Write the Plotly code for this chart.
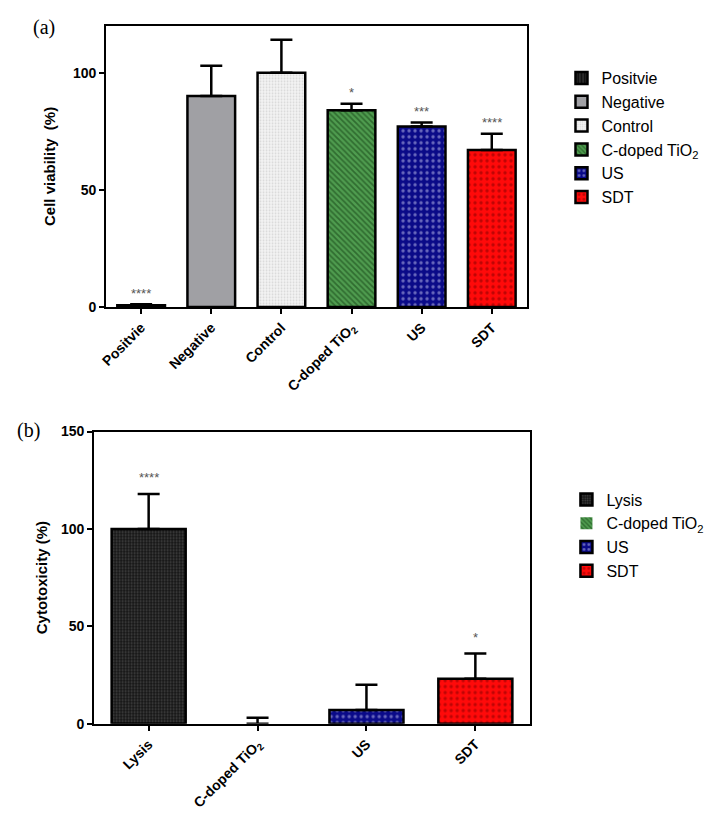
import plotly.graph_objects as go

# ---------- data: panel (a) ----------
cats_a = ["Positvie", "Negative", "Control", "C-doped TiO<sub>2</sub>", "US", "SDT"]
legend_a = ["Positvie", "Negative", "Control", "C-doped TiO<sub>2</sub>", "US", "SDT"]
vals_a = [0.8, 90, 100, 84, 77, 67]
errs_a = [0.4, 13, 14, 2.8, 1.8, 7]
stars_a = ["****", "", "", "*", "***", "****"]

# ---------- data: panel (b) ----------
cats_b = ["Lysis", "C-doped TiO<sub>2</sub>", "US", "SDT"]
legend_b = ["Lysis", "C-doped TiO<sub>2</sub>", "US", "SDT"]
vals_b = [100, 0, 7, 23]
errs_b = [18, 3, 13, 13]
stars_b = ["****", "", "", "*"]

# styles
style = {
    "Positvie": dict(bg="#111111", fg="#666666", shape="|", size=4, solidity=0.3),
    "Negative": dict(bg="#a0a0a4", fg="#a0a0a4", shape="", size=8, solidity=0.3),
    "Control": dict(bg="#f4f4f4", fg="#b8b8b8", shape=".", size=3, solidity=0.3),
    "C-doped TiO<sub>2</sub>": dict(bg="#4f9c4f", fg="#123d12", shape="\\", size=4, solidity=0.45),
    "US": dict(bg="#0a0a88", fg="#c8c8f0", shape=".", size=6, solidity=0.25),
    "SDT": dict(bg="#ff0a0a", fg="#7a0000", shape=".", size=6, solidity=0.25),
    "Lysis": dict(bg="#151515", fg="#7a7a7a", shape=".", size=3, solidity=0.35),
}

FONT = "Liberation Sans, Arial, sans-serif"
W, H = 701, 805   # page has an 8px body margin
OFF = 8

def px(X):
    return (X - OFF) / W

def py(Y):
    return 1 - (Y - OFF) / H

fig = go.Figure()

def add_bars(cats, labels, vals, errs, xa, ya, leg):
    for c, lab, v, e in zip(cats, labels, vals, errs):
        s = style[c]
        fig.add_trace(go.Bar(
            x=[c], y=[v], name=lab, xaxis=xa, yaxis=ya, legend=leg,
            width=0.68,
            marker=dict(
                color=s["bg"],
                line=dict(color="black", width=2.5 if v > 0 else 0),
                pattern=dict(shape=s["shape"], fgcolor=s["fg"], bgcolor=s["bg"],
                             size=s["size"], solidity=s["solidity"], fillmode="overlay"),
            ),
            error_y=dict(type="data", symmetric=False, array=[e], arrayminus=[0],
                         color="black", thickness=2.5, width=11),
        ))

add_bars(cats_a, legend_a, vals_a, errs_a, "x", "y", "legend")
add_bars(cats_b, legend_b, vals_b, errs_b, "x2", "y2", "legend2")

annots = []
for c, v, e, st in zip(cats_a, vals_a, errs_a, stars_a):
    if st:
        annots.append(dict(x=c, y=v + e, xref="x", yref="y", text=st, showarrow=False,
                           yshift=11, font=dict(family=FONT, size=13, color="#555555")))
for c, v, e, st in zip(cats_b, vals_b, errs_b, stars_b):
    if st:
        annots.append(dict(x=c, y=v + e, xref="x2", yref="y2", text=st, showarrow=False,
                           yshift=16, font=dict(family=FONT, size=13, color="#555555")))

annots.append(dict(x=px(24), y=py(20), xref="paper", yref="paper", text="(a)",
                   showarrow=False, xanchor="left", yanchor="middle",
                   font=dict(family="Liberation Serif", size=20, color="black")))
annots.append(dict(x=px(8), y=py(431), xref="paper", yref="paper", text="(b)",
                   showarrow=False, xanchor="left", yanchor="middle",
                   font=dict(family="Liberation Serif", size=20, color="black")))

tickfont = dict(family=FONT, size=14, color="black", weight="bold")
titlefont = dict(family=FONT, size=15, color="black", weight="bold")

axis_common = dict(showline=True, linecolor="black", linewidth=2, mirror=True,
                   ticks="outside", ticklen=5, tickwidth=2, tickcolor="black",
                   showgrid=False, zeroline=False, tickfont=tickfont)

fig.update_layout(
    width=W, height=H,
    margin=dict(l=0, r=0, t=0, b=0),
    plot_bgcolor="white", paper_bgcolor="white",
    barmode="overlay",
    xaxis=dict(domain=[px(100), px(525)], anchor="y", tickangle=-45,
               categoryorder="array", categoryarray=cats_a, range=[-0.5, 5.5], **axis_common),
    yaxis=dict(domain=[py(305), py(18)], anchor="x", range=[0, 120],
               tickvals=[0, 50, 100], title=dict(text="Cell viability  (%)", font=titlefont, standoff=14),
               **axis_common),
    xaxis2=dict(domain=[px(88), px(528)], anchor="y2", tickangle=-45,
                categoryorder="array", categoryarray=cats_b, range=[-0.5, 3.5], **axis_common),
    yaxis2=dict(domain=[py(730), py(432)], anchor="x2", range=[0, 150],
                tickvals=[0, 50, 100, 150], title=dict(text="Cytotoxicity (%)", font=titlefont, standoff=10),
                **axis_common),
    legend=dict(x=px(560), y=py(54), xanchor="left", yanchor="top",
                font=dict(family=FONT, size=16, color="black"),
                bgcolor="rgba(0,0,0,0)", tracegroupgap=2),
    legend2=dict(x=px(565), y=py(484), xanchor="left", yanchor="top",
                 font=dict(family=FONT, size=16, color="black"),
                 bgcolor="rgba(0,0,0,0)", tracegroupgap=2),
    annotations=annots,
    showlegend=True,
)

fig.write_html("out.html")
